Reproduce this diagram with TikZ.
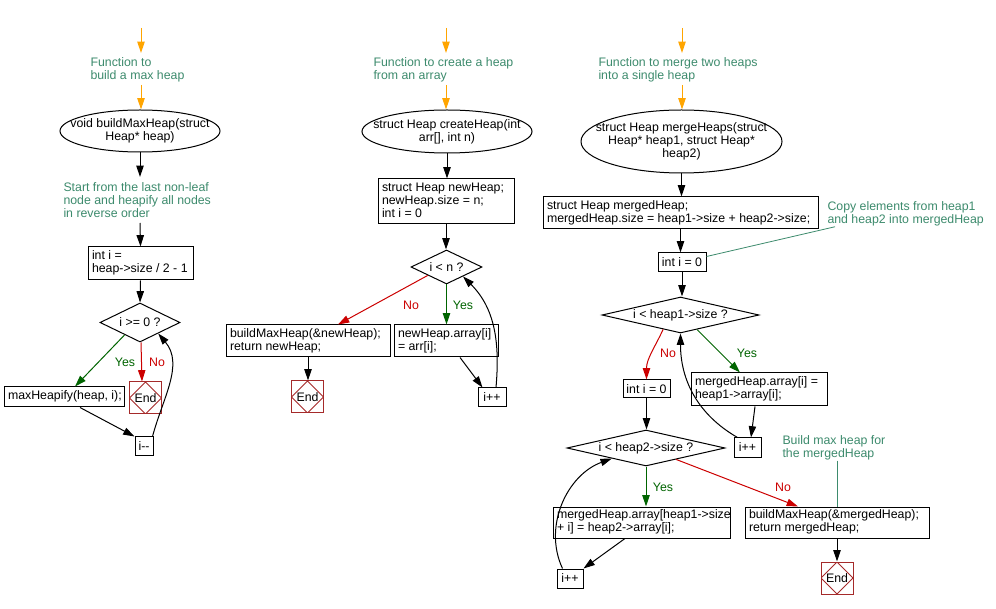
\documentclass[tikz,border=0pt]{standalone}
\usepackage{fontspec}
\setmainfont{Liberation Sans}
\usetikzlibrary{shapes.geometric,arrows.meta,calc}
\definecolor{cmt}{HTML}{3D8B6D}
\definecolor{orng}{HTML}{FFA500}
\definecolor{nored}{HTML}{CC0000}
\definecolor{yesgreen}{HTML}{006400}
\definecolor{endred}{HTML}{A52A2A}
\newcommand{\bxt}[2]{\makebox[#1][l]{\begin{tabular}{@{}l@{}}#2\end{tabular}}}
\tikzset{
  box/.style={draw, inner xsep=3pt, inner ysep=0pt},
  sbox/.style={draw, align=center, inner sep=0pt},
  ell/.style={draw, ellipse, inner sep=0pt},
  dia/.style={draw, diamond, inner sep=0pt},
  lbl/.style={inner sep=0pt, align=center},
  cmtnode/.style={text=cmt, align=left, inner sep=0pt, anchor=west},
  endnode/.style={draw=endred, minimum size=24pt, inner sep=0pt,
    path picture={\draw[endred] (path picture bounding box.north) -- (path picture bounding box.east) -- (path picture bounding box.south) -- (path picture bounding box.west) -- cycle;}},
  arr/.style={-{Triangle[length=8.5pt,width=5.5pt]}, black},
  oarr/.style={-{Triangle[length=8.5pt,width=5.5pt]}, orng},
  yarr/.style={-{Triangle[length=8.5pt,width=5.5pt]}, yesgreen},
  narr/.style={-{Triangle[length=8.5pt,width=5.5pt]}, nored},
  ylbl/.style={text=yesgreen, inner sep=0pt},
  nlbl/.style={text=nored, inner sep=0pt},
  cline/.style={cmt, line width=0.6pt}
}
\begin{document}
\begin{tikzpicture}[x=0.75pt, y=-0.75pt, line width=0.75pt, font=\fontsize{9.25}{9.75}\selectfont]
\fill[white] (0,0) rectangle (996,609);
\useasboundingbox (0,0) rectangle (996,609);

% ---------------- Column 1 ----------------
\coordinate (o1a) at (141,28);
\coordinate (o1b) at (141,53);
\coordinate (o1c) at (141,85);
\node[cmtnode] (c1a) at (90,69.5) {Function to\\build a max heap};
\node[ell, minimum width=120pt, minimum height=31.5pt] (e1) at (140,131) {};
\node[lbl] (e1t) at (e1) {void buildMaxHeap(struct\\Heap* heap)};
\coordinate (k1a) at (140,177);
\coordinate (k1b) at (140,223);
\node[cmtnode] (c1b) at (63,200.5) {Start from the last non-leaf\\node and heapify all nodes\\in reverse order};
\node[box, minimum height=24.75pt] (b1) at (140.5,263.5) {\bxt{72.75pt}{int i =\\heap->size / 2 - 1}};
\node[dia, minimum width=60pt, minimum height=29.25pt] (d1) at (140,322.5) {};
\node[lbl] (d1t) at (d1) {i >= 0 ?};
\node[endnode] (end1) at (145.5,398) {};
\node[lbl] (end1t) at (end1) {End};
\node[box, minimum height=15pt] (b2) at (64,397) {\bxt{84pt}{maxHeapify(heap, i);}};
\node[sbox, minimum width=13.5pt, minimum height=13.5pt] (b3) at (144,446) {i-{}-};
\node[ylbl] (y1) at (125,362) {Yes};
\node[nlbl] (n1) at (157,362) {No};

\draw[oarr] (o1a) -- (o1b);
\draw[oarr] (o1c) -- (o1c |- e1.north);
\draw[arr] (e1.south) -- (k1a);
\draw[arr] (k1b) -- (b1.north);
\draw[arr] (b1.south) -- (d1.north);
\draw[yarr] ($(d1.west)!0.62!(d1.south)$) -- ($(b2.north)+(11,0)$);
\draw[narr] ($(d1.south)+(1,0)$) -- ($(d1.south |- end1.north)+(2,0)$);
\draw[arr] ($(b2.south)+(16,0)$) -- (b3.north west);
\draw[arr] ($(b3.north east)+(-1,0)$) to[out=75,in=-50] ($(d1.south)!0.45!(d1.east)$);

% ---------------- Column 2 ----------------
\coordinate (o2a) at (446,28);
\coordinate (o2b) at (446,53);
\coordinate (o2c) at (446,85);
\node[cmtnode] (c2a) at (373,69.5) {Function to create a heap\\from an array};
\node[ell, minimum width=127.5pt, minimum height=32.25pt] (e2) at (447,131.5) {};
\node[lbl] (e2t) at (e2) {struct Heap createHeap(int\\arr[], int n)};
\node[box, minimum height=33.75pt] (b4) at (446,201.5) {\bxt{96pt}{struct Heap newHeap;\\newHeap.size = n;\\int i = 0}};
\node[dia, minimum width=53.25pt, minimum height=25.5pt] (d2) at (446.5,267) {};
\node[lbl] (d2t) at (d2) {i < n ?};
\node[box, minimum height=24pt] (b5) at (308,341) {\bxt{117pt}{buildMaxHeap(\&newHeap);\\return newHeap;}};
\node[endnode] (end2) at (307.5,397) {};
\node[lbl] (end2t) at (end2) {End};
\node[box, minimum height=24pt] (b6) at (446,341) {\bxt{72pt}{newHeap.array[i]\\= arr[i];}};
\node[sbox, minimum width=21pt, minimum height=14.25pt] (b7) at (492,397.5) {i++};
\node[nlbl] (n2) at (411,305) {No};
\node[ylbl] (y2) at (463,305) {Yes};

\draw[oarr] (o2a) -- (o2b);
\draw[oarr] (o2c) -- (o2c |- e2.north);
\draw[arr] (e2.south) -- (e2.south |- b4.north);
\draw[arr] (b4.south) -- (b4.south |- d2.north);
\draw[narr] ($(d2.west)!0.48!(d2.south)$) -- ($(b5.north)+(30,0)$);
\draw[yarr] (d2.south) -- (d2.south |- b6.north);
\draw[arr] (b5.south) -- (b5.south |- end2.north);
\draw[arr] ($(b6.south)+(14,0)$) -- ($(b7.north west)+(5,0)$);
\draw[arr] ($(b7.north)+(4,0)$) to[out=85,in=-45] ($(d2.south)!0.46!(d2.east)$);

% ---------------- Column 3 ----------------
\coordinate (o3a) at (682,28);
\coordinate (o3b) at (682,53);
\coordinate (o3c) at (682,85);
\node[cmtnode] (c3a) at (598,70) {Function to merge two heaps\\into a single heap};
\node[ell, minimum width=150.75pt, minimum height=47.25pt] (e3) at (681.5,141.5) {};
\node[lbl] (e3t) at (e3) {struct Heap mergeHeaps(struct\\Heap* heap1, struct Heap*\\heap2)};
\node[box, minimum height=24pt] (b8) at (680.5,213) {\bxt{200.25pt}{struct Heap mergedHeap;\\mergedHeap.size = heap1->size + heap2->size;}};
\node[sbox, minimum width=36pt, minimum height=14.25pt] (b9) at (682,262.5) {int i = 0};
\node[cmtnode] (c3b) at (827,214) {Copy elements from heap1\\and heap2 into mergedHeap};
\node[dia, minimum width=117.75pt, minimum height=27pt] (d3) at (680.5,315) {};
\node[lbl] (d3t) at (d3) {i < heap1->size ?};
\node[sbox, minimum width=35.25pt, minimum height=13.5pt] (b10) at (646.5,389) {int i = 0};
\node[box, minimum height=24.75pt] (b11) at (759,389.5) {\bxt{96pt}{mergedHeap.array[i] =\\heap1->array[i];}};
\node[sbox, minimum width=20.25pt, minimum height=14.25pt] (b12) at (747.5,447.5) {i++};
\node[dia, minimum width=118.5pt, minimum height=27pt] (d4) at (646,448) {};
\node[lbl] (d4t) at (d4) {i < heap2->size ?};
\node[box, minimum height=23.25pt] (b13) at (641.5,522.5) {\bxt{126.75pt}{mergedHeap.array[heap1->size\\+ i] = heap2->array[i];}};
\node[sbox, minimum width=19.5pt, minimum height=14.25pt] (b14) at (570,578.5) {i++};
\node[box, minimum height=23.25pt] (b15) at (837,522.5) {\bxt{132pt}{buildMaxHeap(\&mergedHeap);\\return mergedHeap;}};
\node[cmtnode] (c4) at (782,448) {Build max heap for\\the mergedHeap};
\node[endnode] (end3) at (837,578) {};
\node[lbl] (end3t) at (end3) {End};
\node[nlbl] (n3) at (668,353) {No};
\node[ylbl] (y3) at (747,353) {Yes};
\node[ylbl] (y4) at (663,487) {Yes};
\node[nlbl] (n4) at (783,487) {No};

\draw[oarr] (o3a) -- (o3b);
\draw[oarr] (o3c) -- (o3c |- e3.north);
\draw[arr] (e3.south) -- (e3.south |- b8.north);
\draw[arr] (b8.south) -- (b8.south |- b9.north);
\draw[cline] ($(c3b.south west)+(8,0)$) -- ($(b9.east)+(0,-6)$);
\draw[arr] (b9.south) -- (b9.south |- d3.north);
\draw[narr] ($(d3.west)!0.78!(d3.south)$) to[out=-115,in=90] (b10.north);
\draw[yarr] ($(d3.south)!0.21!(d3.east)$) -- ($(b11.north)+(-19,0)$);
\draw[arr] ($(b11.south)+(-4,0)$) -- ($(b12.north)+(3.5,0)$);
\draw[arr] ($(b12.north west)+(4,0)$) to[out=150,in=-90] (d3.south);
\draw[arr] (b10.south) -- (b10.south |- d4.north);
\draw[yarr] (d4.south) -- (d4.south |- b13.north);
\draw[arr] ($(b13.south)+(-16.5,0)$) -- (b14.north east);
\draw[arr] ($(b14.north west)+(6,0)$) to[out=115,in=-160] ($(d4.west)!0.57!(d4.south)$);
\draw[narr] ($(d4.south)!0.38!(d4.east)$) -- ($(b15.north)+(-39,0)$);
\draw[cline] (c4.south -| b15.north) -- (b15.north);
\draw[arr] (b15.south) -- (b15.south |- end3.north);
\end{tikzpicture}
\end{document}
